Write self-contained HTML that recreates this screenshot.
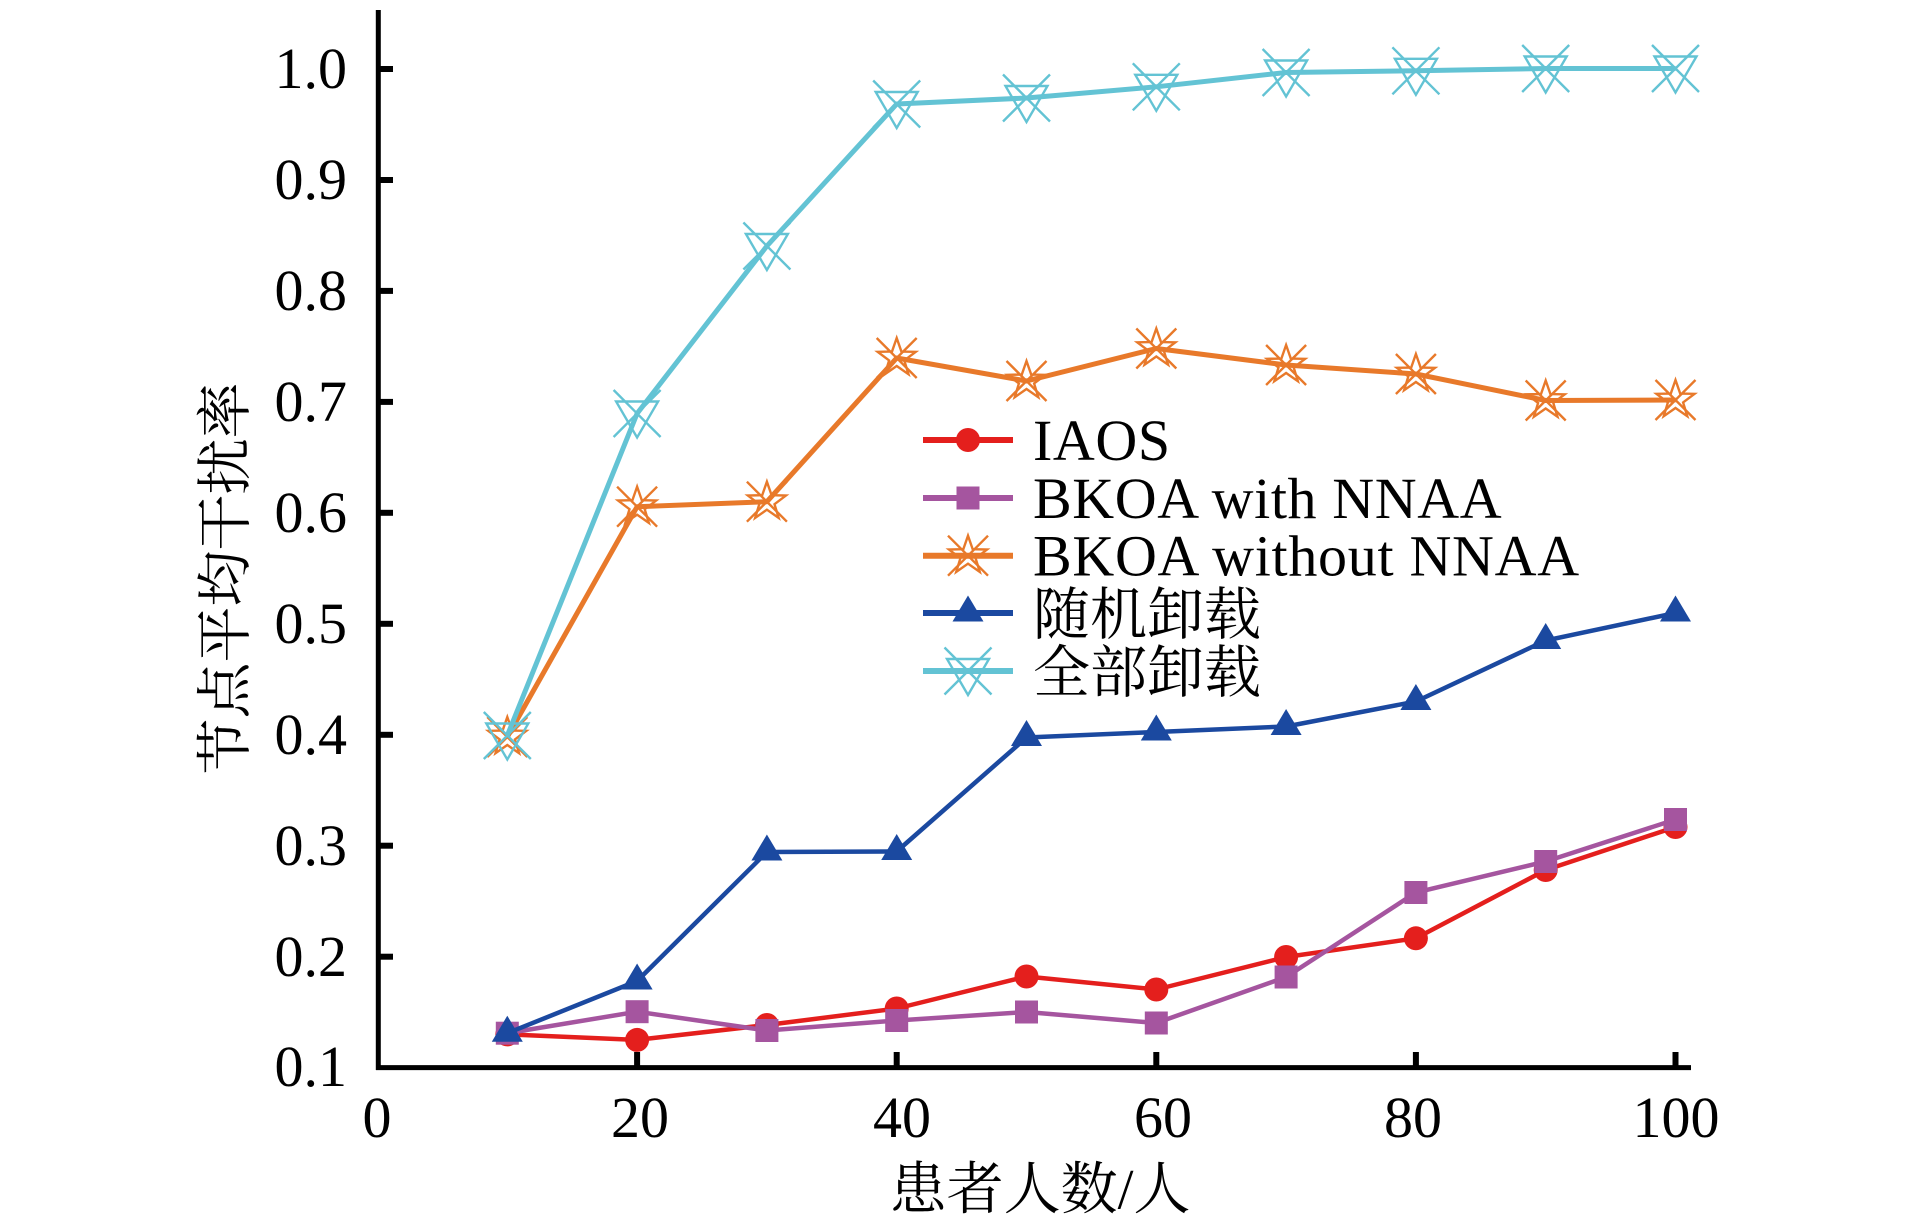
<!DOCTYPE html>
<html>
<head>
<meta charset="utf-8">
<style>
html,body{margin:0;padding:0;background:#fff;}
svg{display:block;}
</style>
</head>
<body>
<svg width="1913" height="1228" viewBox="0 0 1913 1228" xmlns="http://www.w3.org/2000/svg">
<defs>
  <g id="mc"><circle cx="0" cy="0" r="12" fill="#e41f1d"/></g>
  <g id="ms"><rect x="-11.5" y="-11.5" width="23" height="23" fill="#a5559f"/></g>
  <g id="mt"><path d="M0,-17.5 L15.5,8.5 L-15.5,8.5 Z" fill="#1b49a0"/></g>
  <g id="mstar" fill="none" stroke="#e8792a" stroke-width="2.4" stroke-linejoin="miter">
    <path d="M0,-20 L4.70,-6.47 L19.02,-6.18 L7.61,2.47 L11.76,16.18 L0,8 L-11.76,16.18 L-7.61,2.47 L-19.02,-6.18 L-4.70,-6.47 Z"/>
    <path d="M-20,-20 L20,20 M20,-20 L-20,20"/>
  </g>
  <g id="mtri" fill="none" stroke="#63c3d4" stroke-width="2.4">
    <path d="M-21,-12 L21,-12 L0,24 Z"/>
    <path d="M-23.5,-23.5 L23.5,23.5 M23.5,-23.5 L-23.5,23.5"/>
  </g>
</defs>

<!-- Axes -->
<line x1="378.3" y1="10" x2="378.3" y2="1070" stroke="#000" stroke-width="5"/>
<line x1="376" y1="1067.6" x2="1691" y2="1067.6" stroke="#000" stroke-width="5"/>

<!-- Y ticks -->
<g stroke="#000" stroke-width="6">
  <line x1="378" y1="69" x2="393" y2="69"/>
  <line x1="378" y1="180" x2="393" y2="180"/>
  <line x1="378" y1="290.9" x2="393" y2="290.9"/>
  <line x1="378" y1="401.9" x2="393" y2="401.9"/>
  <line x1="378" y1="512.8" x2="393" y2="512.8"/>
  <line x1="378" y1="623.8" x2="393" y2="623.8"/>
  <line x1="378" y1="734.8" x2="393" y2="734.8"/>
  <line x1="378" y1="845.7" x2="393" y2="845.7"/>
  <line x1="378" y1="956.7" x2="393" y2="956.7"/>
</g>
<!-- X ticks -->
<g stroke="#000" stroke-width="6">
  <line x1="637.1" y1="1052" x2="637.1" y2="1068"/>
  <line x1="896.7" y1="1052" x2="896.7" y2="1068"/>
  <line x1="1156.3" y1="1052" x2="1156.3" y2="1068"/>
  <line x1="1415.9" y1="1052" x2="1415.9" y2="1068"/>
  <line x1="1675.5" y1="1052" x2="1675.5" y2="1068"/>
</g>

<!-- Y tick labels -->
<g font-family="'Liberation Serif', serif" font-size="58" fill="#000" text-anchor="end">
  <text x="347" y="88">1.0</text>
  <text x="347" y="199">0.9</text>
  <text x="347" y="310">0.8</text>
  <text x="347" y="421">0.7</text>
  <text x="347" y="532">0.6</text>
  <text x="347" y="643">0.5</text>
  <text x="347" y="754">0.4</text>
  <text x="347" y="865">0.3</text>
  <text x="347" y="976">0.2</text>
  <text x="347" y="1086">0.1</text>
</g>
<!-- X tick labels -->
<g font-family="'Liberation Serif', serif" font-size="58" fill="#000" text-anchor="middle">
  <text x="377" y="1137">0</text>
  <text x="640" y="1137">20</text>
  <text x="902" y="1137">40</text>
  <text x="1163" y="1137">60</text>
  <text x="1413" y="1137">80</text>
  <text x="1676" y="1137">100</text>
</g>

<!-- Axis titles -->
<text x="1040" y="1190" font-family="'Liberation Serif', 'Noto Serif CJK SC', serif" font-size="57" fill="#000" text-anchor="middle" dominant-baseline="central">患者人数/人</text>
<text transform="translate(221.5,578.5) rotate(-90)" x="0" y="0" font-family="'Noto Serif CJK SC', serif" font-size="56" fill="#000" text-anchor="middle" dominant-baseline="central">节点平均干扰率</text>

<!-- Series: IAOS (red) -->
<polyline fill="none" stroke="#e41f1d" stroke-width="4.5" stroke-linejoin="round"
  points="507.3,1034.4 637.1,1039.9 766.9,1025 896.7,1008.5 1026.5,976.5 1156.3,989.5 1286.1,957 1415.9,938.3 1545.7,870 1675.5,827"/>
<g>
  <use href="#mc" x="507.3" y="1034.4"/><use href="#mc" x="637.1" y="1039.9"/><use href="#mc" x="766.9" y="1025"/>
  <use href="#mc" x="896.7" y="1008.5"/><use href="#mc" x="1026.5" y="976.5"/><use href="#mc" x="1156.3" y="989.5"/>
  <use href="#mc" x="1286.1" y="957"/><use href="#mc" x="1415.9" y="938.3"/><use href="#mc" x="1545.7" y="870"/>
  <use href="#mc" x="1675.5" y="827"/>
</g>

<!-- Series: BKOA with NNAA (purple) -->
<polyline fill="none" stroke="#a5559f" stroke-width="4.5" stroke-linejoin="round"
  points="507.3,1033.2 637.1,1011.7 766.9,1030.5 896.7,1020.5 1026.5,1012 1156.3,1023 1286.1,977 1415.9,892.5 1545.7,861.5 1675.5,819.5"/>
<g>
  <use href="#ms" x="507.3" y="1033.2"/><use href="#ms" x="637.1" y="1011.7"/><use href="#ms" x="766.9" y="1030.5"/>
  <use href="#ms" x="896.7" y="1020.5"/><use href="#ms" x="1026.5" y="1012"/><use href="#ms" x="1156.3" y="1023"/>
  <use href="#ms" x="1286.1" y="977"/><use href="#ms" x="1415.9" y="892.5"/><use href="#ms" x="1545.7" y="861.5"/>
  <use href="#ms" x="1675.5" y="819.5"/>
</g>

<!-- Series: BKOA without NNAA (orange) -->
<polyline fill="none" stroke="#e8792a" stroke-width="5" stroke-linejoin="round"
  points="507.3,737 637.1,506.7 766.9,501.7 896.7,358 1026.5,381 1156.3,348.5 1286.1,365 1415.9,374 1545.7,400.5 1675.5,400"/>
<g>
  <use href="#mstar" x="507.3" y="737"/><use href="#mstar" x="637.1" y="506.7"/><use href="#mstar" x="766.9" y="501.7"/>
  <use href="#mstar" x="896.7" y="358"/><use href="#mstar" x="1026.5" y="381"/><use href="#mstar" x="1156.3" y="348.5"/>
  <use href="#mstar" x="1286.1" y="365"/><use href="#mstar" x="1415.9" y="374"/><use href="#mstar" x="1545.7" y="400.5"/>
  <use href="#mstar" x="1675.5" y="400"/>
</g>

<!-- Series: 随机卸载 (blue) -->
<polyline fill="none" stroke="#1b49a0" stroke-width="4.5" stroke-linejoin="round"
  points="507.3,1033.2 637.1,981 766.9,852 896.7,851.5 1026.5,737.5 1156.3,732 1286.1,726.5 1415.9,701.5 1545.7,640.5 1675.5,613"/>
<g>
  <use href="#mt" x="507.3" y="1033.2"/><use href="#mt" x="637.1" y="981"/><use href="#mt" x="766.9" y="852"/>
  <use href="#mt" x="896.7" y="851.5"/><use href="#mt" x="1026.5" y="737.5"/><use href="#mt" x="1156.3" y="732"/>
  <use href="#mt" x="1286.1" y="726.5"/><use href="#mt" x="1415.9" y="701.5"/><use href="#mt" x="1545.7" y="640.5"/>
  <use href="#mt" x="1675.5" y="613"/>
</g>

<!-- Series: 全部卸载 (cyan) -->
<polyline fill="none" stroke="#63c3d4" stroke-width="5" stroke-linejoin="round"
  points="507.3,735.5 637.1,413.5 766.9,246 896.7,104 1026.5,98 1156.3,86.8 1286.1,72.5 1415.9,70.8 1545.7,68.5 1675.5,68.5"/>
<g>
  <use href="#mtri" x="507.3" y="735.5"/><use href="#mtri" x="637.1" y="413.5"/><use href="#mtri" x="766.9" y="246"/>
  <use href="#mtri" x="896.7" y="104"/><use href="#mtri" x="1026.5" y="98"/><use href="#mtri" x="1156.3" y="86.8"/>
  <use href="#mtri" x="1286.1" y="72.5"/><use href="#mtri" x="1415.9" y="70.8"/><use href="#mtri" x="1545.7" y="68.5"/>
  <use href="#mtri" x="1675.5" y="68.5"/>
</g>

<!-- Legend -->
<g>
  <line x1="923" y1="440" x2="1013" y2="440" stroke="#e41f1d" stroke-width="6"/>
  <use href="#mc" x="968" y="440"/>
  <line x1="923" y1="498" x2="1013" y2="498" stroke="#a5559f" stroke-width="6"/>
  <use href="#ms" x="968" y="498"/>
  <line x1="923" y1="555.7" x2="1013" y2="555.7" stroke="#e8792a" stroke-width="6"/>
  <use href="#mstar" x="968" y="555.7"/>
  <line x1="923" y1="613" x2="1013" y2="613" stroke="#1b49a0" stroke-width="6"/>
  <use href="#mt" x="968" y="613"/>
  <line x1="923" y1="671" x2="1013" y2="671" stroke="#63c3d4" stroke-width="6"/>
  <use href="#mtri" x="968" y="671"/>
</g>
<g font-family="'Liberation Serif', 'Noto Serif CJK SC', serif" font-size="58" fill="#000">
  <text x="1033" y="460" letter-spacing="0.6">IAOS</text>
  <text x="1033" y="518" letter-spacing="0.6">BKOA with NNAA</text>
  <text x="1033" y="575.5" letter-spacing="0.7">BKOA without NNAA</text>
  <text x="1033" y="634" font-size="57">随机卸载</text>
  <text x="1033" y="692" font-size="57">全部卸载</text>
</g>
</svg>
</body>
</html>
